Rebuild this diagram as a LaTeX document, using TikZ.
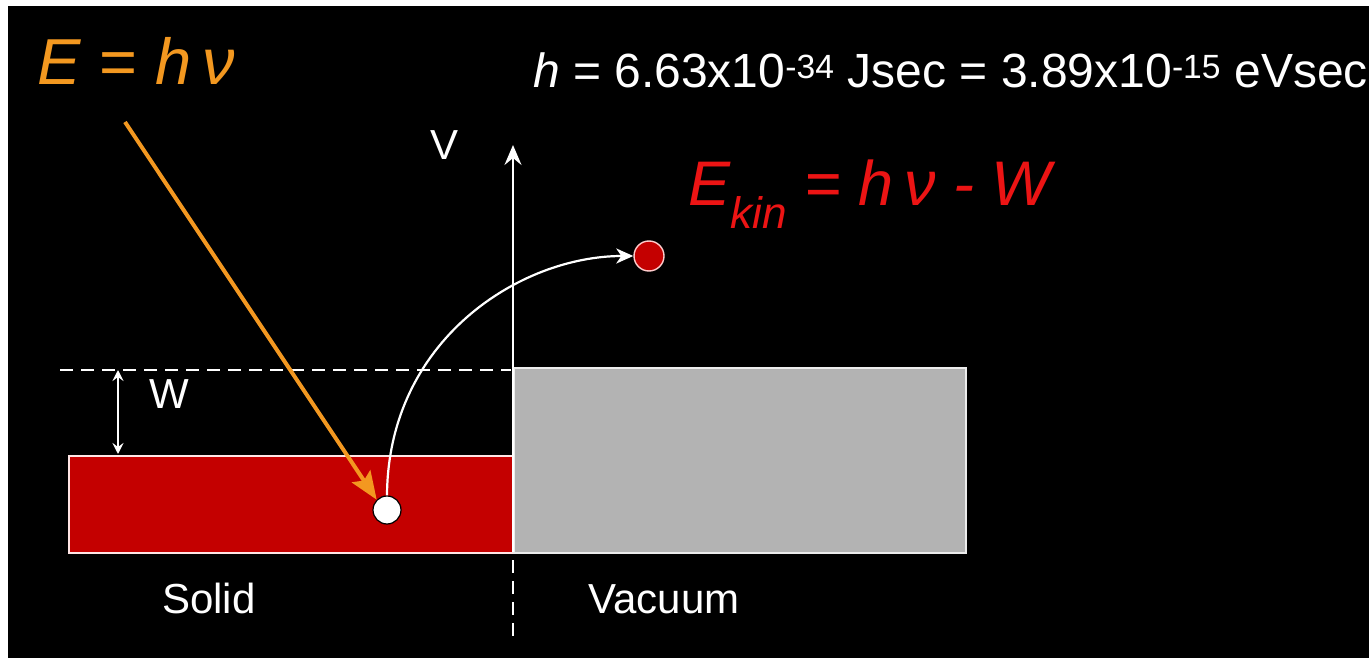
\documentclass[tikz,border=0pt]{standalone}
\usepackage{fontspec}
\setmainfont{Liberation Sans}
\usepackage{graphicx}
\usetikzlibrary{arrows.meta}
\definecolor{photon}{RGB}{243,152,32}
\definecolor{solidred}{RGB}{196,0,0}
\definecolor{vacgray}{RGB}{179,179,179}
\definecolor{ekred}{RGB}{236,20,20}
\tikzset{
  txt/.style={text=white, inner sep=0pt, anchor=base},
  bigtxt/.style={txt, font=\fontsize{42}{42}\selectfont},
  band/.style={draw=white!90!red, line width=1.5pt},
  wire/.style={white, line width=2.2pt},
  dashline/.style={white, line width=2.4pt, dash pattern=on 13pt off 8pt},
}
\begin{document}
\begin{tikzpicture}[x=1pt,y=-1pt]
\useasboundingbox (0,0) rectangle (1369,658);
\fill[white] (0,0) rectangle (1369,658);
\fill[black] (8,6) rectangle (1369,658);
% bands
\node[band, fill=solidred, minimum width=445pt, minimum height=97pt, inner sep=0pt, anchor=north west] (solidrect) at (68,455) {};
\node[band, fill=vacgray, draw=white!85!gray, minimum width=452pt, minimum height=185pt, inner sep=0pt, anchor=north west] (vacrect) at (513,367) {};
% work function level
\coordinate (lvlL) at (60,370);
\coordinate (lvlR) at (511,370);
\draw[dashline] (lvlL) -- (lvlR);
% axis
\coordinate (axbot) at (513,552);
\coordinate (axtop) at (513,145);
\draw[wire, -{Stealth[length=20pt,width=17pt,inset=7pt]}] (axbot) -- (axtop);
\coordinate (dtop) at (513,560);
\coordinate (dbot) at (513,642);
\draw[dashline] (dtop) -- (dbot);
% W arrow
\coordinate (wtop) at (118,370);
\coordinate (wbot) at (118,454);
\draw[wire, {Stealth[length=11pt,width=11pt,inset=4pt]}-{Stealth[length=11pt,width=11pt,inset=4pt]}] (wtop) -- (wbot);
% electrons
\node[circle, fill=white, draw=black, line width=1.2pt, minimum size=28pt, inner sep=0pt] (electron) at (387,510) {};
\node[circle, fill=solidred, draw=white!80!red, line width=1.4pt, minimum size=30pt, inner sep=0pt] (photoel) at (649,256) {};
% photon arrow
\coordinate (phstart) at (125,122);
\draw[photon, line width=4pt, -{Stealth[length=28pt,width=22pt,inset=5pt]}] (phstart) -- (electron.north west);
% emitted electron path
\draw[wire, -{Stealth[length=17pt,width=15pt,inset=5pt]}] (electron.north) .. controls (388,340) and (520,256) .. (photoel.west);
% texts
\node[txt, anchor=base west, text=photon, font=\fontsize{65}{65}\selectfont] (ehv) at (37,85) {\textit{E} = \textit{h}\,\textit{ν}};
\node[txt, anchor=base west, font=\fontsize{48}{48}\selectfont] (hconst) at (533,88) {\textit{h} = 6.63x10\textsuperscript{-34} Jsec = 3.89x10\textsuperscript{-15} eVsec};
\node[txt, anchor=base west, text=ekred, font=\fontsize{63}{63}\selectfont\itshape] (ekin) at (688,205) {E\textsubscript{kin} = h\,ν - W};
\node[bigtxt] (vlabel) at (445,160) {V};
\node[bigtxt] (wlabel) at (169,408) {W};
\node[bigtxt] (solid) at (209,613) {Solid};
\node[bigtxt] (vacuum) at (664,613) {Vacuum};
\end{tikzpicture}
\end{document}
